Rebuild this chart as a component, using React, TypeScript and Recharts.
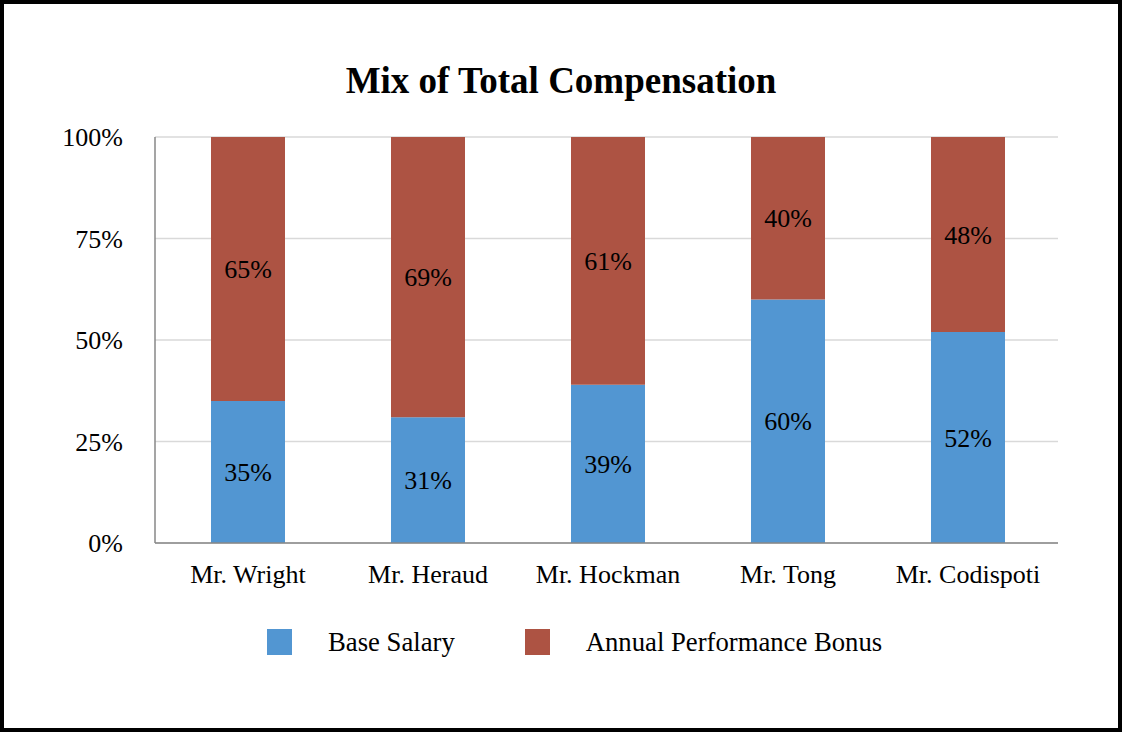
import React from 'react';
import { BarChart, Bar, XAxis, YAxis, CartesianGrid, Legend, LabelList } from 'recharts';

// Compensation mix per executive, in percent of total
const executives = ['Mr. Wright', 'Mr. Heraud', 'Mr. Hockman', 'Mr. Tong', 'Mr. Codispoti'];
const baseSalary = [35, 31, 39, 60, 52];
const annualBonus = [65, 69, 61, 40, 48];
const yTicks = [0, 25, 50, 75, 100];

const BLUE = '#5296d2';
const RED = '#ad5343';
const FONT = '"Liberation Serif", "Times New Roman", serif';

const data = executives.map((name, i) => ({
  name,
  base: baseSalary[i],
  bonus: annualBonus[i],
}));

const pct = (v: any) => `${v}%`;

const legendItems = [
  { label: 'Base Salary', color: BLUE },
  { label: 'Annual Performance Bonus', color: RED },
];

const CompLegend = () => (
  <div style={{ display: 'flex', alignItems: 'center', height: 40, fontFamily: FONT, fontSize: 26.7, color: '#000' }}>
    {legendItems.map((item, i) => (
      <div key={item.label} style={{ display: 'flex', alignItems: 'center', marginRight: i === 0 ? 70 : 0 }}>
        <div style={{ width: 25, height: 26, background: item.color, marginRight: 36 }} />
        <span style={{ whiteSpace: 'nowrap' }}>{item.label}</span>
      </div>
    ))}
  </div>
);

const App: React.FC = () => {
  return (
    <div
      style={{
        position: 'absolute',
        left: 0,
        top: 0,
        width: 1122,
        height: 732,
        boxSizing: 'border-box',
        border: '4px solid #000',
        background: '#fff',
      }}
    >
      <div
        style={{
          position: 'absolute',
          left: 0,
          right: 0,
          top: 58,
          textAlign: 'center',
          fontFamily: FONT,
          fontWeight: 'bold',
          fontSize: 37,
          lineHeight: '37px',
          color: '#000',
        }}
      >
        Mix of Total Compensation
      </div>
      <BarChart
        width={1114}
        height={724}
        data={data}
        margin={{ top: 133, right: 60, left: 0, bottom: 66 }}
      >
        <CartesianGrid vertical={false} stroke="#d9d9d9" strokeWidth={1.5} />
        <XAxis
          dataKey="name"
          height={79}
          padding={{ left: 3, right: 0 }}
          tickLine={false}
          tickSize={0}
          tickMargin={22}
          stroke="#878787"
          strokeWidth={1.5}
          tick={{ fill: '#000', fontSize: 26, fontFamily: FONT }}
        />
        <YAxis
          width={151}
          domain={[0, 100]}
          ticks={yTicks}
          tickFormatter={pct}
          tickLine={false}
          tickSize={0}
          tickMargin={32}
          stroke="#878787"
          strokeWidth={1.5}
          tick={{ fill: '#000', fontSize: 26, fontFamily: FONT }}
        />
        <Legend
          verticalAlign="bottom"
          height={40}
          content={<CompLegend />}
          wrapperStyle={{ left: 263, width: 720 }}
        />
        <Bar dataKey="base" name="Base Salary" stackId="mix" fill={BLUE} barSize={74} isAnimationActive={false}>
          <LabelList dataKey="base" position="center" formatter={pct} fill="#000" fontSize={26} fontFamily={FONT} />
        </Bar>
        <Bar dataKey="bonus" name="Annual Performance Bonus" stackId="mix" fill={RED} barSize={74} isAnimationActive={false}>
          <LabelList dataKey="bonus" position="center" formatter={pct} fill="#000" fontSize={26} fontFamily={FONT} />
        </Bar>
      </BarChart>
    </div>
  );
};

export default App;
